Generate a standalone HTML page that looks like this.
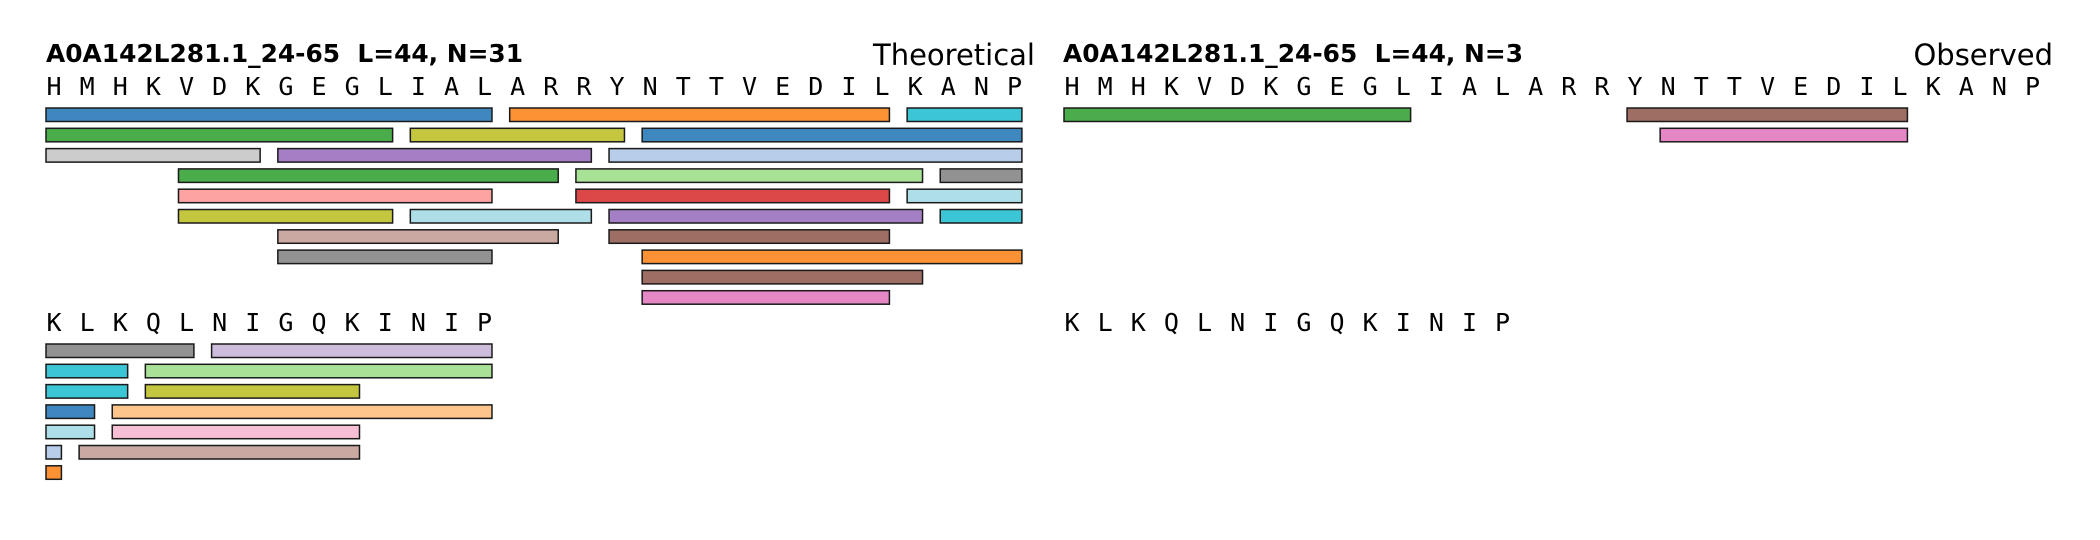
<!DOCTYPE html>
<html><head><meta charset="utf-8"><style>
html,body{margin:0;padding:0;background:#fff;}
svg{display:block;}
.seq{font-family:"DejaVu Sans Mono","Liberation Mono",monospace;font-size:25px;fill:#000;}
.ttl{font-family:"DejaVu Sans","Liberation Sans",sans-serif;font-weight:bold;font-size:25px;}
.lbl{font-family:"DejaVu Sans","Liberation Sans",sans-serif;font-size:29px;}
</style></head><body>
<svg id="chart" width="2100" height="540" viewBox="0 0 2100 540" xmlns="http://www.w3.org/2000/svg">
<text class="ttl" x="46" y="62" textLength="477" lengthAdjust="spacingAndGlyphs">A0A142L281.1_24-65 &#160;L=44, N=31</text>
<text class="lbl" x="1035" y="65" text-anchor="end">Theoretical</text>
<text class="ttl" x="1063" y="62" textLength="460" lengthAdjust="spacingAndGlyphs">A0A142L281.1_24-65 &#160;L=44, N=3</text>
<text class="lbl" x="2053" y="65" text-anchor="end">Observed</text>
<g id="marks"></g>
</svg>
<script>
const sequence = "HMHKVDKGEGLIALARRYNTTVEDILKANPKLKQLNIGQKINIP";
const lineLength = 30;
const theoStart = [0,14,26, 0,11,18, 0,7,17, 4,16,27, 4,16,26, 4,11,17,27, 7,17, 7,18, 18, 18,
                   30,35, 30,33, 30,33, 30,32, 30,32, 30,31, 30];
const theoEnd   = [14,26,30, 11,18,30, 7,17,30, 16,27,30, 14,26,30, 11,17,27,30, 16,26, 14,30, 27, 26,
                   35,44, 33,44, 33,40, 32,44, 32,40, 31,40, 31];
const theoRow   = [0,0,0, 1,1,1, 2,2,2, 3,3,3, 4,4,4, 5,5,5,5, 6,6, 7,7, 8, 9,
                   0,0, 1,1, 2,2, 3,3, 4,4, 5,5, 6];
const theoColor = ["#3f88bf","#fd9234","#3cc5d5","#4bac4b","#c5c63f","#3f88bf","#cccccc","#a57fc5","#b7cdea",
  "#4bac4b","#a7e297","#929292","#fda4a2","#dc4748","#aedfe8","#c5c63f","#aedfe8","#a57fc5","#3cc5d5",
  "#c9a9a1","#9e6e64","#929292","#fd9234","#9e6e64","#e586c5",
  "#929292","#cebcdc","#3cc5d5","#a7e297","#3cc5d5","#c5c63f","#3f88bf","#fdc58c","#aedfe8","#f6bfd6","#b7cdea","#c9a9a1","#fd9234"];
const obsStart = [0,17,18];
const obsEnd   = [11,26,26];
const obsRow   = [0,0,1];
const obsColor = ["#4bac4b","#9e6e64","#e586c5"];

const NS="http://www.w3.org/2000/svg";
const g=document.getElementById('marks');
const W=33.12, GAP=17.7;
const lineTop=[0,236];
const seqBase=95, barTop=108, rowH=20.3, barH=13.5;
function xPos(panelX, idx){return panelX + (idx % lineLength)*W;}
function drawSeq(panelX, prefix){
  for(let i=0;i<sequence.length;i++){
    const line=Math.floor(i/lineLength);
    const t=document.createElementNS(NS,'text');
    t.setAttribute('class','seq');
    t.setAttribute('x', xPos(panelX,i)+0.5);
    t.setAttribute('y', seqBase+lineTop[line]);
    t.textContent=sequence[i];
    
    
    g.appendChild(t);
  }
}
function drawBars(panelX, starts, ends, rows, colors, prefix){
  for(let k=0;k<starts.length;k++){
    const line=Math.floor(starts[k]/lineLength);
    const x0=xPos(panelX,starts[k]);
    const len=ends[k]-starts[k];
    const r=document.createElementNS(NS,'rect');
    r.setAttribute('x', x0);
    r.setAttribute('y', barTop+lineTop[line]+rows[k]*rowH);
    r.setAttribute('width', len*W-GAP);
    r.setAttribute('height', barH);
    r.setAttribute('fill', colors[k]);
    r.setAttribute('stroke','#1a1a1a');
    r.setAttribute('stroke-width','1.5');
    
    
    g.appendChild(r);
  }
}
drawSeq(46,'theoretical');
drawSeq(1064,'observed');
drawBars(46, theoStart, theoEnd, theoRow, theoColor, 'theoretical');
drawBars(1064, obsStart, obsEnd, obsRow, obsColor, 'observed');
</script>
</body></html>
